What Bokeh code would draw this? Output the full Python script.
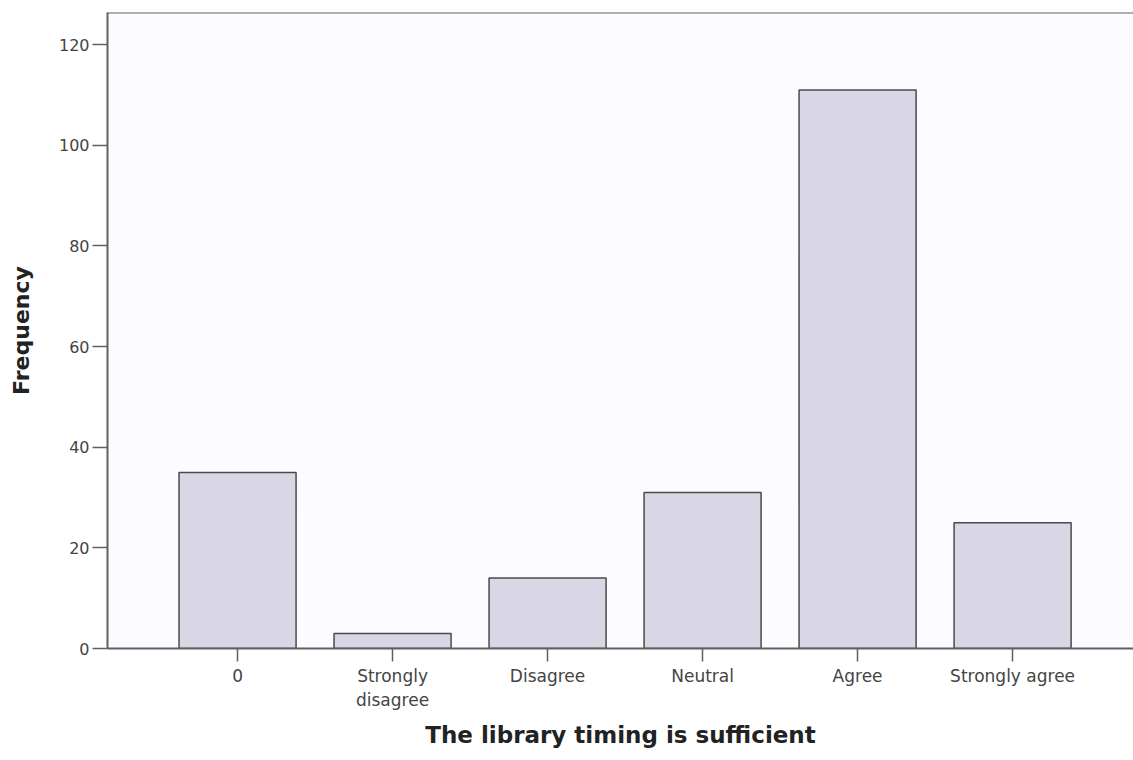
from bokeh.plotting import figure
from bokeh.models import FixedTicker, Span, ColumnDataSource
from bokeh.embed import file_html
from bokeh.resources import INLINE

categories = ["0", "Strongly\ndisagree", "Disagree", "Neutral", "Agree", "Strongly agree"]
frequency = [35, 3, 14, 31, 111, 25]
y_ticks = [0, 20, 40, 60, 80, 100, 120]

positions = list(range(len(categories)))
src = ColumnDataSource(dict(x=positions, top=frequency))

Y_END = 126.4

p = figure(width=1133, height=760, output_backend="svg", toolbar_location=None,
           x_range=(-0.839, 5.78), y_range=(0, Y_END),
           min_border_left=107, min_border_right=0, min_border_top=12, min_border_bottom=112)

p.background_fill_color = "#fcfbff"
p.border_fill_color = "white"
p.outline_line_color = None
p.xgrid.visible = False
p.ygrid.visible = False

p.vbar(x="x", top="top", width=0.755, source=src, fill_color="#d9d7e6",
       line_color="#4a4a4a", line_width=1.5)

top_line = Span(location=Y_END, dimension="width", line_color="#606060", line_width=2)
p.add_layout(top_line)

# y axis
p.yaxis.ticker = FixedTicker(ticks=y_ticks)
p.yaxis.axis_label = "Frequency"
p.yaxis.axis_label_text_font = "DejaVu Sans"
p.yaxis.axis_label_text_font_style = "bold"
p.yaxis.axis_label_text_font_size = "22px"
p.yaxis.axis_label_text_color = "#222222"
p.yaxis.axis_label_standoff = 22
p.yaxis.major_label_text_font = "DejaVu Sans"
p.yaxis.major_label_text_font_size = "16px"
p.yaxis.major_label_text_color = "#444444"
p.yaxis.major_tick_out = 15
p.yaxis.major_tick_in = 0
p.yaxis.minor_tick_line_color = None
p.yaxis.axis_line_color = "#606060"
p.yaxis.axis_line_width = 2
p.yaxis.major_tick_line_color = "#606060"
p.yaxis.major_tick_line_width = 1.5
p.yaxis.major_label_standoff = 3

# x axis
p.xaxis.ticker = FixedTicker(ticks=positions)
p.xaxis.major_label_overrides = {i: c for i, c in zip(positions, categories)}
p.xaxis.axis_label = "The library timing is sufficient"
p.xaxis.axis_label_text_font = "DejaVu Sans"
p.xaxis.axis_label_text_font_style = "bold"
p.xaxis.axis_label_text_font_size = "23px"
p.xaxis.axis_label_text_color = "#222222"
p.xaxis.axis_label_standoff = 9
p.xaxis.major_label_text_font = "DejaVu Sans"
p.xaxis.major_label_text_font_size = "17px"
p.xaxis.major_label_text_color = "#444444"
p.xaxis.major_tick_out = 13
p.xaxis.major_tick_in = 0
p.xaxis.minor_tick_line_color = None
p.xaxis.axis_line_color = "#606060"
p.xaxis.axis_line_width = 2
p.xaxis.major_tick_line_color = "#606060"
p.xaxis.major_tick_line_width = 1.5
p.xaxis.major_label_standoff = 4

open("out.html", "w").write(file_html(p, INLINE))
